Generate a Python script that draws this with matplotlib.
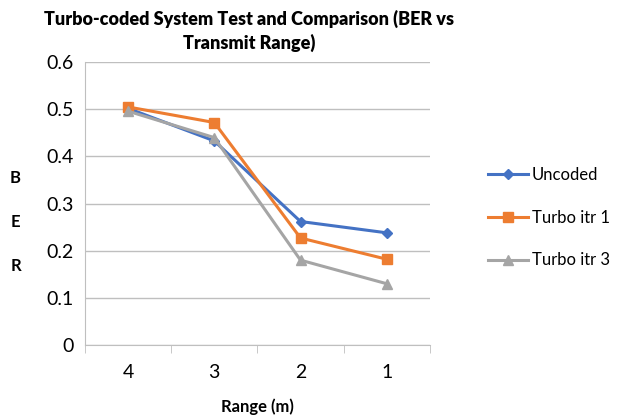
import matplotlib
matplotlib.use("Agg")
import matplotlib.pyplot as plt
import numpy as np

plt.rcParams['font.family'] = ['Lato', 'DejaVu Sans']

categories = ["4", "3", "2", "1"]
uncoded = [0.502, 0.433, 0.262, 0.238]
turbo1 = [0.505, 0.472, 0.227, 0.182]
turbo3 = [0.496, 0.440, 0.180, 0.130]
yticks = [0, 0.1, 0.2, 0.3, 0.4, 0.5, 0.6]

fig = plt.figure(figsize=(6.18, 4.19), dpi=100)
ax = fig.add_axes([0.1375, 0.1766, 0.558, 0.675])

x = np.arange(len(categories))
ax.plot(x, uncoded, color='#4472C4', marker='D', markersize=5, lw=2.2, label='Uncoded')
ax.plot(x, turbo1, color='#ED7D31', marker='s', markersize=7, lw=2.2, label='Turbo itr 1')
ax.plot(x, turbo3, color='#A5A5A5', marker='^', markersize=7, lw=2.2, label='Turbo itr 3')

ax.set_xlim(-0.5, len(categories) - 0.5)
ax.set_ylim(0, 0.6)
ax.set_yticks(yticks)
ax.set_yticklabels([f"{v:g}" for v in yticks], fontsize=14)
ax.set_xticks(x)
ax.set_xticklabels(categories, fontsize=14)
ax.set_xticks(np.arange(-0.5, len(categories)), minor=True)
ax.tick_params(axis='x', which='major', length=0, pad=14)
ax.tick_params(axis='x', which='minor', length=6, color='#bfbfbf', direction='out')
ax.tick_params(axis='y', length=0, pad=8)
ax.grid(axis='y', color='#bfbfbf', lw=1)
ax.set_axisbelow(True)
for s in ['top', 'right']:
    ax.spines[s].set_visible(False)
ax.spines['left'].set_color('#bfbfbf')
ax.spines['bottom'].set_color('#bfbfbf')

ax.set_xlabel("Range (m)", fontsize=12, fontweight='bold', labelpad=12)
for i, ch in enumerate("BER"):
    fig.text(0.025, 1 - (178 + 44 * i) / 419, ch, fontsize=12, fontweight='bold', ha='center', va='center')
fig.text(0.403, 1 - 10 / 419, "Turbo-coded System Test and Comparison (BER vs\nTransmit Range)",
         fontsize=13, fontweight='heavy', ha='center', va='top', multialignment='center', linespacing=1.4)

ax.legend(loc='center left', bbox_to_anchor=(1.15, 0.45), frameon=False, fontsize=12,
          handlelength=2.4, handletextpad=0.2, labelspacing=1.6, borderaxespad=0)

fig.savefig("out.png", dpi=100)
